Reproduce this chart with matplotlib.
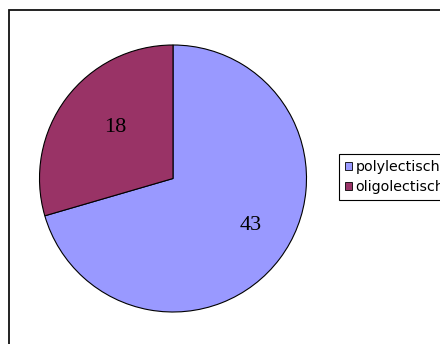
import numpy as np
import matplotlib
matplotlib.use("Agg")
import matplotlib.pyplot as plt
from matplotlib.patches import Rectangle, Patch

categories = ["polylectisch", "oligolectisch"]
values = [43, 18]
colors = ["#9999FF", "#993366"]

W, H = 440, 344
fig = plt.figure(figsize=(W / 100, H / 100), dpi=100)
fig.patch.set_facecolor("white")

# outer chart-area frame (open to the right and bottom)
fig.patches.append(Rectangle((9 / W, -0.1), 2.0, 1 - 10 / H + 0.1,
                             transform=fig.transFigure, fill=False,
                             edgecolor="#111111", linewidth=1.3, zorder=0))

# pie plot area: centre (173, 178.5) px, radius 133.5 px
cx, cy, r = 173, 178.5, 133.5
ax = fig.add_axes([(cx - r) / W, 1 - (cy + r) / H, 2 * r / W, 2 * r / H])
wedges, _ = ax.pie(values, colors=colors, startangle=90, counterclock=False,
                   radius=1.0,
                   wedgeprops=dict(edgecolor="black", linewidth=0.8))
ax.set_xlim(-1, 1)
ax.set_ylim(-1, 1)
ax.set_aspect("equal")
ax.axis("off")

# value labels inside each wedge: radial distance and a small turn (deg)
label_dist = [0.68, 0.58]
label_turn = [6.0, -4.5]
for w, v, d, t in zip(wedges, values, label_dist, label_turn):
    ang = np.deg2rad((w.theta1 + w.theta2) / 2 + t)
    ax.text(d * np.cos(ang), d * np.sin(ang), str(v),
            ha="center", va="center", fontsize=16,
            family="Liberation Serif", color="black")

handles = [Patch(facecolor=c, edgecolor="black", linewidth=0.6) for c in colors]
leg = fig.legend(handles, categories, loc="upper left",
                 bbox_to_anchor=(339 / W, 1 - 154 / H),
                 frameon=True, fancybox=False, framealpha=1,
                 edgecolor="black",
                 prop=dict(family="DejaVu Sans", size=10.3),
                 handlelength=0.5, handleheight=0.5, handletextpad=0.25,
                 labelspacing=0.42, borderpad=0.42, borderaxespad=0)
leg.get_frame().set_linewidth(0.8)

fig.savefig("out.png", dpi=100)
